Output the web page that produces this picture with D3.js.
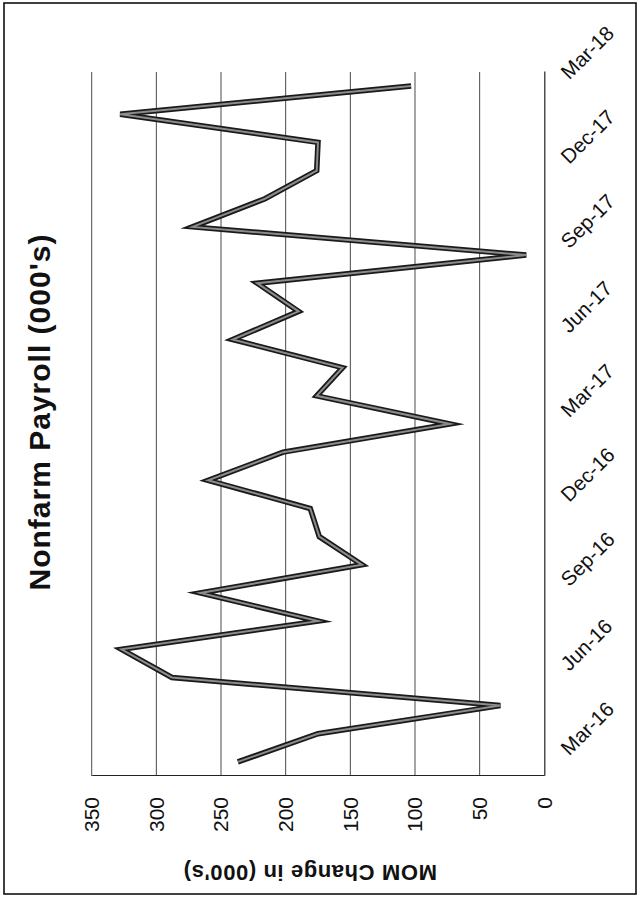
<!DOCTYPE html>
<html>
<head>
<meta charset="utf-8">
<script src="https://cdn.jsdelivr.net/npm/d3@7"></script>
<style>
  html, body { margin: 0; padding: 0; background: #fff; }
  svg { display: block; }
  text { font-family: "Liberation Sans", Arial, Helvetica, sans-serif; fill: #111; }
</style>
</head>
<body>
<svg id="chart" width="638" height="897"></svg>
<script>
// ---- data ----
const months = ["Mar-16","Apr-16","May-16","Jun-16","Jul-16","Aug-16","Sep-16","Oct-16","Nov-16","Dec-16",
                "Jan-17","Feb-17","Mar-17","Apr-17","May-17","Jun-17","Jul-17","Aug-17","Sep-17","Oct-17",
                "Nov-17","Dec-17","Jan-18","Feb-18","Mar-18"];
const payrolls = [237, 175, 34, 288, 327, 175, 266, 141, 174, 181,
                  260, 202, 73, 176, 156, 241, 190, 222, 14, 272,
                  216, 176, 175, 328, 103];
const monthTickLabels = ["Mar-16","Jun-16","Sep-16","Dec-16","Mar-17","Jun-17","Sep-17","Dec-17","Mar-18"];
const valueTicks = [0, 50, 100, 150, 200, 250, 300, 350];
const chartTitle = "Nonfarm Payroll (000's)";
const valueAxisTitle = "MOM Change in (000's)";

// ---- layout: chart is drawn in its own (landscape) frame, then rotated -90deg ----
const svg = d3.select("#chart");
const W = 897, H = 638;           // unrotated frame
svg.append("rect").attr("x", 4).attr("y", 3).attr("width", 632).attr("height", 891)
   .attr("fill", "#fff").attr("stroke", "#111").attr("stroke-width", 1.6);

const g = svg.append("g").attr("transform", `translate(0,${W}) rotate(-90)`);

const plot = { left: 121, right: 825, top: 91.7, bottom: 544.3 };

const x = d3.scalePoint().domain(months).range([plot.left, plot.right]).padding(0.5);
const y = d3.scaleLinear().domain([0, 350]).range([plot.bottom, plot.top]);

// gridlines
g.append("g").selectAll("line").data(valueTicks.filter(v => v > 0)).join("line")
  .attr("x1", plot.left).attr("x2", plot.right)
  .attr("y1", d => y(d)).attr("y2", d => y(d))
  .attr("stroke", "#4a4a4a").attr("stroke-width", 1);

// value axis (left in unrotated frame)
const yAxis = g.append("g").attr("transform", `translate(${plot.left},0)`)
  .call(d3.axisLeft(y).tickValues(valueTicks).tickSize(0).tickPadding(21));
yAxis.select(".domain").attr("stroke", "#222").attr("stroke-width", 1.2);
yAxis.selectAll("text").style("font-size", "21px").attr("fill", "#111");

// category axis (bottom in unrotated frame)
const xAxis = g.append("g").attr("transform", `translate(0,${plot.bottom})`)
  .call(d3.axisBottom(x).tickValues(monthTickLabels).tickSize(0).tickSizeOuter(0));
xAxis.select(".domain").attr("stroke", "#222").attr("stroke-width", 1.2);
xAxis.selectAll("text")
  .style("font-size", "20.5px")
  .attr("fill", "#111")
  .attr("x", 0).attr("y", 0).attr("dy", 0)
  .attr("text-anchor", "start")
  .attr("transform", "translate(5,25) rotate(45)");

// line series
const line = d3.line().x((d, i) => x(months[i])).y(d => y(d));
g.append("path").datum(payrolls).attr("d", line)
  .attr("fill", "none").attr("stroke", "#1a1a1a").attr("stroke-width", 5.5)
  .attr("stroke-linejoin", "miter").attr("stroke-miterlimit", 6);
g.append("path").datum(payrolls).attr("d", line)
  .attr("fill", "none").attr("stroke", "#8c8c8c").attr("stroke-width", 2)
  .attr("stroke-linejoin", "miter").attr("stroke-miterlimit", 6);

// title
g.append("text").attr("x", 485).attr("y", 50).attr("text-anchor", "middle")
  .style("font-size", "30px").style("font-weight", "bold").style("letter-spacing", "1px")
  .text(chartTitle);

// value axis title
g.append("text")
  .attr("transform", `translate(32,${(plot.top + plot.bottom) / 2 - 8}) rotate(-90)`)
  .attr("text-anchor", "middle")
  .style("font-size", "22px").style("font-weight", "bold").style("letter-spacing", "0.6px")
  .text(valueAxisTitle);
</script>
</body>
</html>
